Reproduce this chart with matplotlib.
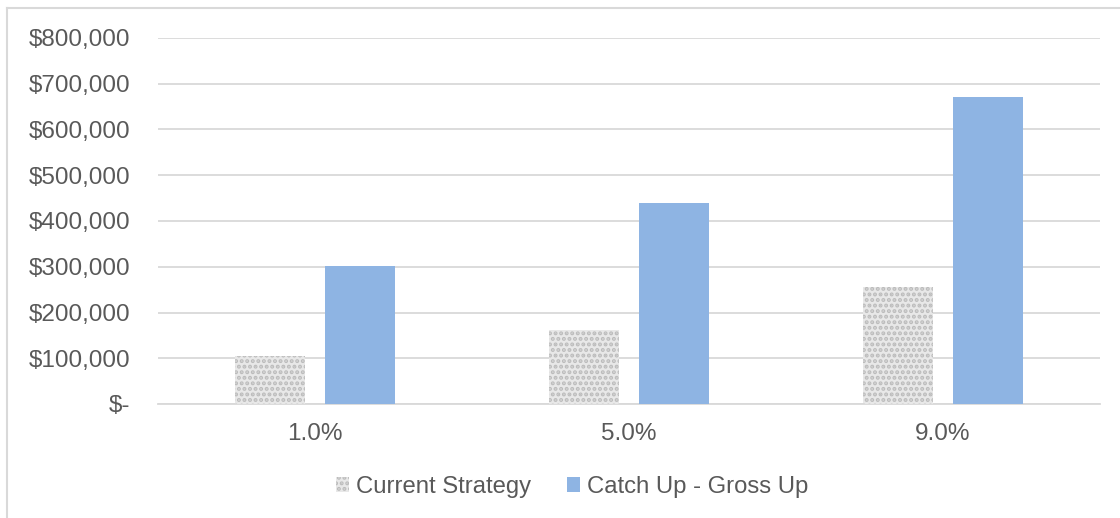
import matplotlib
matplotlib.use("Agg")
import matplotlib.pyplot as plt
import numpy as np
from matplotlib.lines import Line2D

categories = ["1.0%", "5.0%", "9.0%"]
current_strategy = [105000, 162000, 256000]
catch_up_gross_up = [302000, 440000, 672000]
series_names = ["Current Strategy", "Catch Up - Gross Up"]
yticks = [0, 100000, 200000, 300000, 400000, 500000, 600000, 700000, 800000]

plt.rcParams['font.family'] = ['Liberation Sans', 'DejaVu Sans']
plt.rcParams['hatch.linewidth'] = 2.0
plt.rcParams['hatch.color'] = '#bcbcbc'

fig = plt.figure(figsize=(11.2, 5.18), dpi=100)
ax = fig.add_axes([158/1120, 1-404/518, (1100-158)/1120, (404-38)/518])

x = np.arange(len(categories))
w = 0.224
off = 0.144
ax.bar(x - off, current_strategy, width=w, color='#e8e8e8', edgecolor='#bcbcbc',
       hatch='...', linewidth=0, label=series_names[0], zorder=3)
ax.bar(x + off, catch_up_gross_up, width=w, color='#8eb4e3', linewidth=0,
       label=series_names[1], zorder=3)

ax.set_xlim(-0.5, 2.5)
ax.set_ylim(0, 800000)
ax.set_yticks(yticks)
ax.set_yticklabels(["$-" if v == 0 else "${:,.0f}".format(v) for v in yticks])
ax.set_xticks(x)
ax.set_xticklabels(categories)
ax.yaxis.grid(True, color='#d9d9d9', linewidth=1.3, zorder=0)
ax.set_axisbelow(True)
for s in ['top', 'right', 'left']:
    ax.spines[s].set_visible(False)
ax.spines['bottom'].set_color('#d9d9d9')
ax.spines['bottom'].set_linewidth(1.3)
ax.tick_params(axis='both', length=0, labelsize=17.5, labelcolor='#595959')
ax.tick_params(axis='y', pad=20)
ax.tick_params(axis='x', pad=14)
for lbl in ax.get_yticklabels():
    lbl.set_horizontalalignment('right')

handles, labels = ax.get_legend_handles_labels()
fig.legend(handles, labels, loc='center', bbox_to_anchor=(572/1120, 1-487/518),
           ncol=2, frameon=False, fontsize=17.2, labelcolor='#595959',
           handlelength=0.55, handleheight=0.55, handletextpad=0.3, columnspacing=1.5)

# chart border (left and top)
fig.add_artist(Line2D([7/1120, 7/1120], [0, 1-8/518], transform=fig.transFigure,
                      color='#d9d9d9', linewidth=1.5))
fig.add_artist(Line2D([7/1120, 1], [1-8/518, 1-8/518], transform=fig.transFigure,
                      color='#d9d9d9', linewidth=1.5))

fig.savefig("out.png", dpi=100)
